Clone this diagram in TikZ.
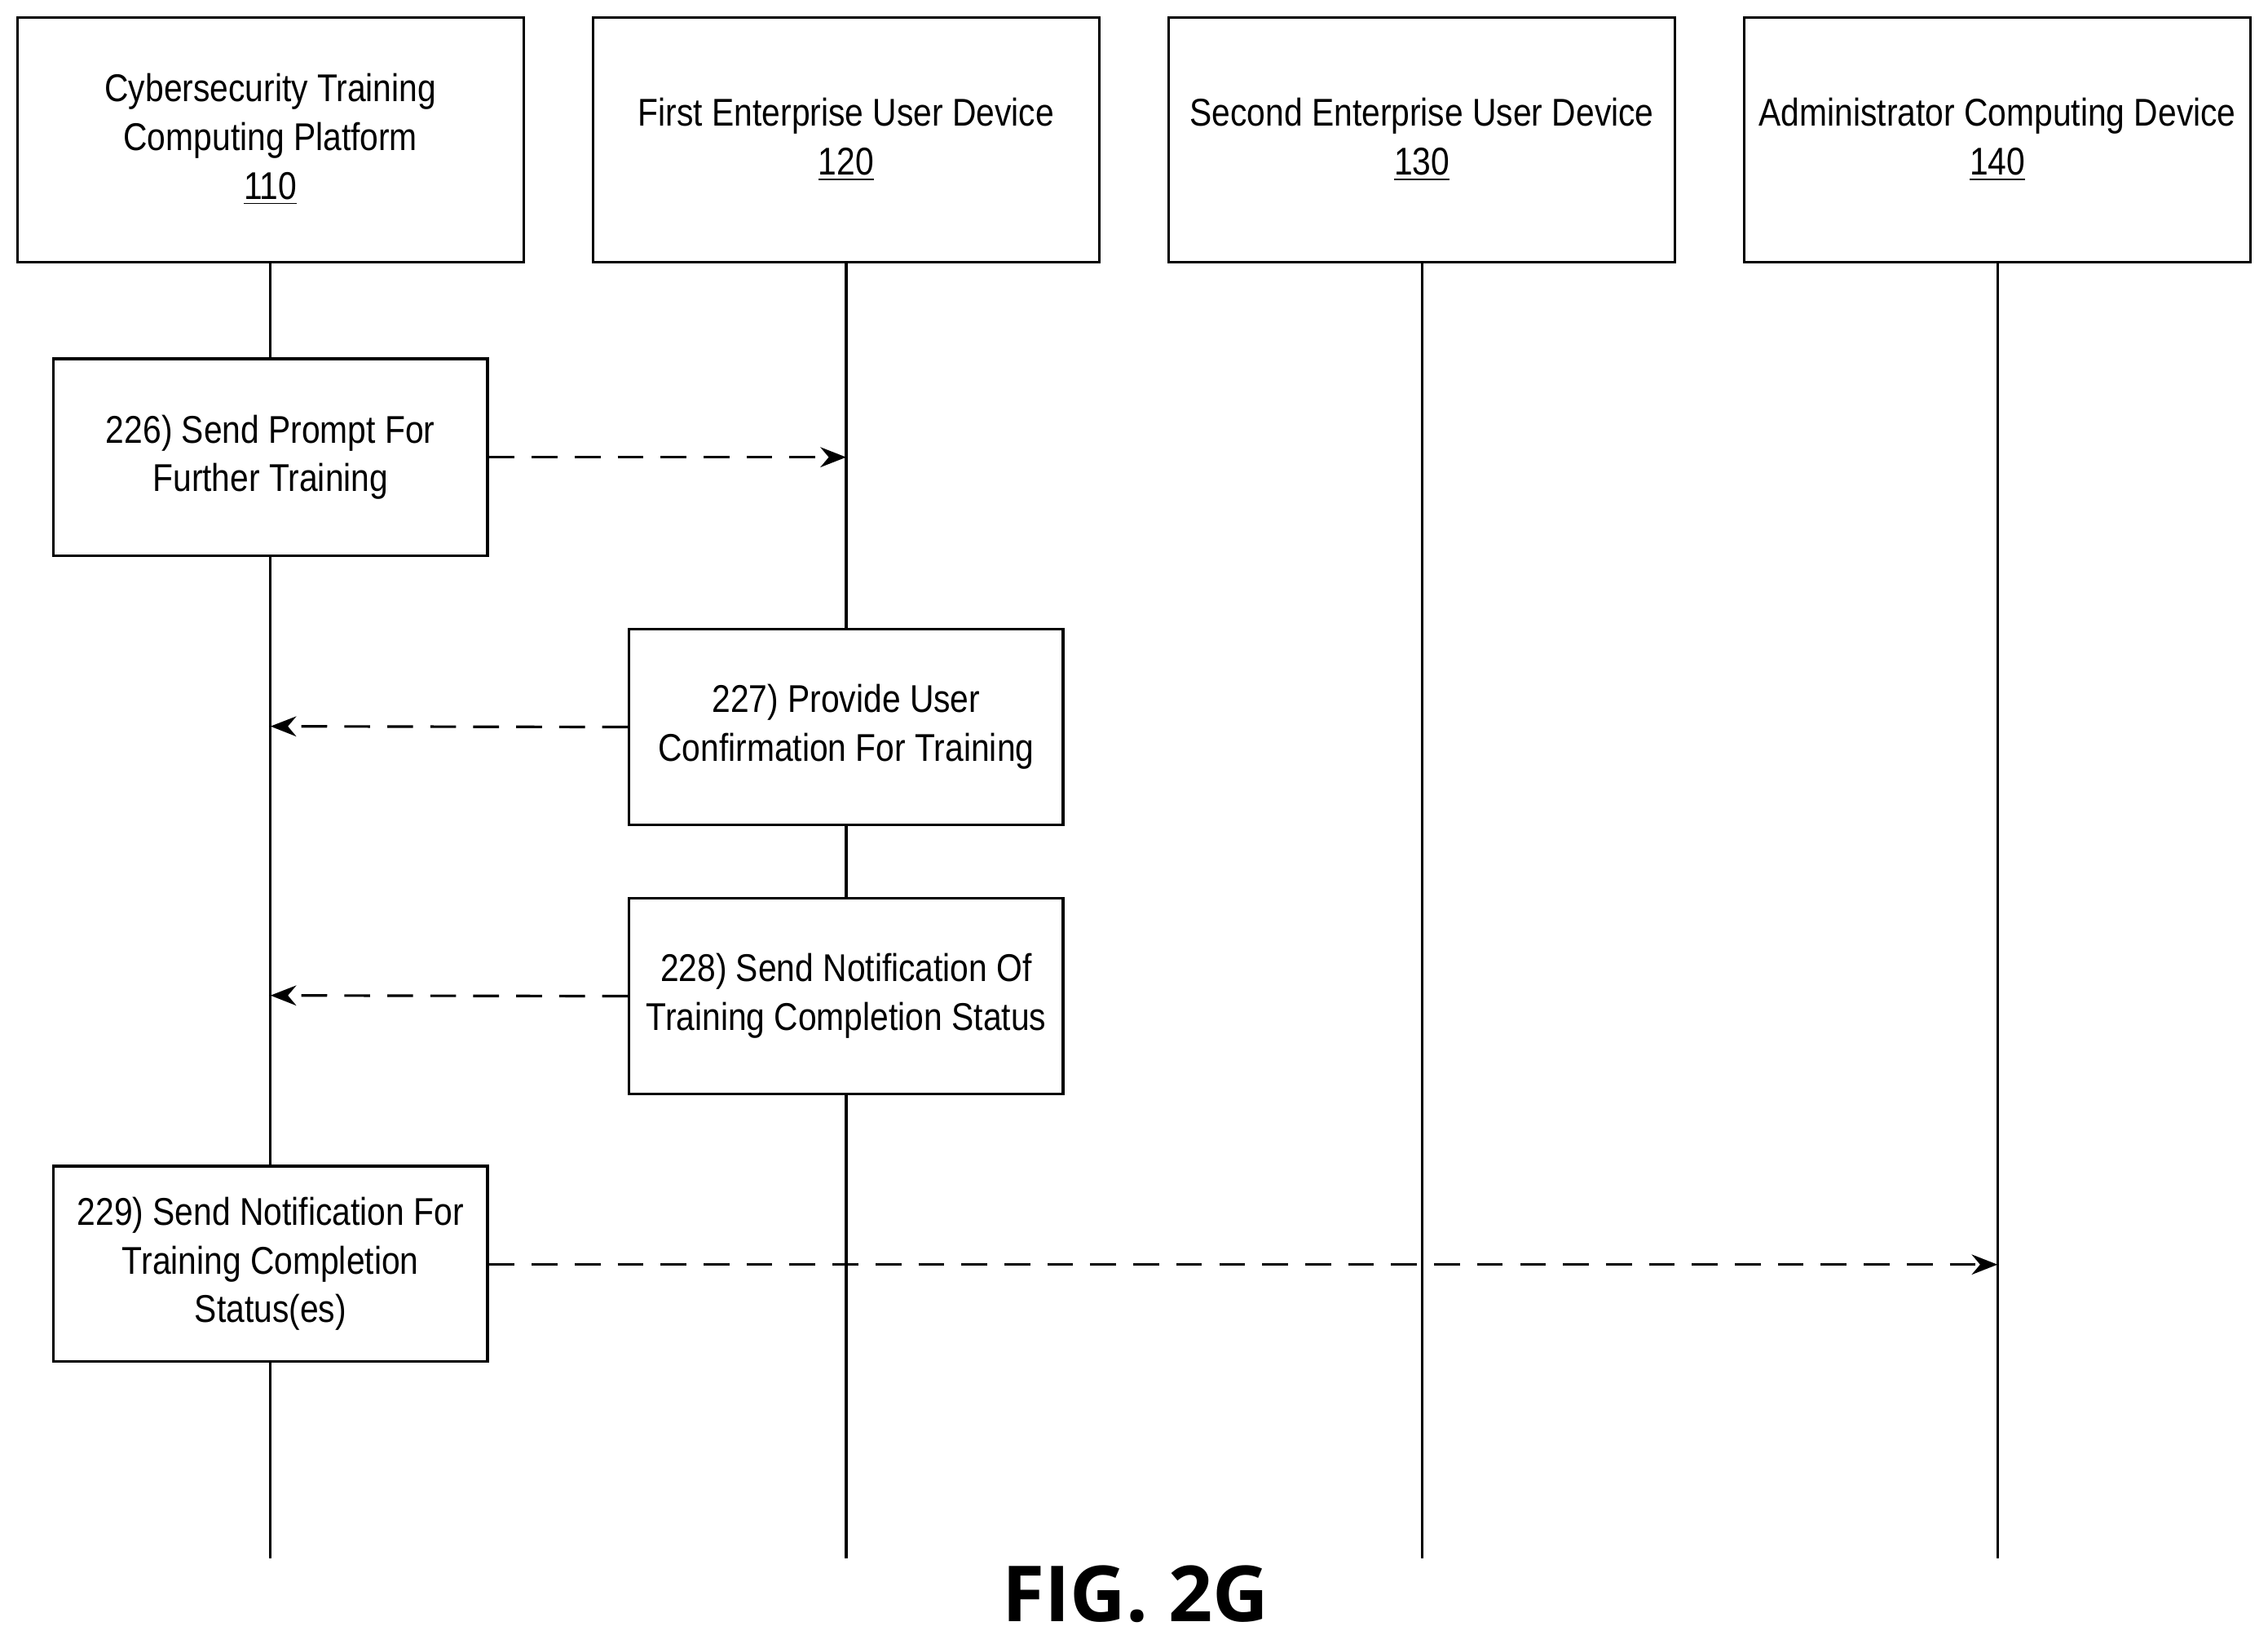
\documentclass[tikz,border=0pt]{standalone}
\usepackage{fontspec}
\setmainfont{Liberation Sans}[FakeStretch=0.86]
\newfontfamily\figfont{Open Sans}
\usetikzlibrary{arrows.meta}
\begin{document}
\begin{tikzpicture}[x=0.01774cm,y=-0.01774cm,
  box/.style={draw,line width=0.9pt,inner sep=0pt,align=center,font=\fontsize{13.5}{17}\selectfont},
  life/.style={line width=0.9pt},
  msg/.style={line width=0.9pt,dash pattern=on 9pt off 6pt,-{Stealth[length=9pt,width=7pt]}}]
\useasboundingbox (0,0) rectangle (1568,1136);
\node[box,minimum width=350*0.01774cm,minimum height=169*0.01774cm] (p) at (187,96.5) {Cybersecurity Training\\Computing Platform\\\underline{110}};
\node[box,minimum width=350*0.01774cm,minimum height=169*0.01774cm] (u1) at (585,96.5) {First Enterprise User Device\\\underline{120}};
\node[box,minimum width=350*0.01774cm,minimum height=169*0.01774cm] (u2) at (983,96.5) {Second Enterprise User Device\\\underline{130}};
\node[box,minimum width=350*0.01774cm,minimum height=169*0.01774cm] (ad) at (1381,96.5) {Administrator Computing Device\\\underline{140}};
\coordinate (pe) at (187,1077); \coordinate (u1e) at (585,1077);
\coordinate (u2e) at (983,1077); \coordinate (ade) at (1381,1077);
\draw[life] (p.south) -- (pe); \draw[life] (u1.south) -- (u1e);
\draw[life] (u2.south) -- (u2e); \draw[life] (ad.south) -- (ade);
\node[box,fill=white,minimum width=300*0.01774cm,minimum height=136*0.01774cm] (b226) at (187,316) {226) Send Prompt For\\Further Training};
\node[box,fill=white,minimum width=300*0.01774cm,minimum height=135*0.01774cm] (b227) at (585,502.5) {227) Provide User\\Confirmation For Training};
\node[box,fill=white,minimum width=300*0.01774cm,minimum height=135*0.01774cm] (b228) at (585,688.5) {228) Send Notification Of\\Training Completion Status};
\node[box,fill=white,minimum width=300*0.01774cm,minimum height=135*0.01774cm] (b229) at (187,873.5) {229) Send Notification For\\Training Completion\\Status(es)};
\coordinate (t226) at (585,316); \coordinate (t227) at (187,502);
\coordinate (t228) at (187,688); \coordinate (t229) at (1381,874);
\draw[msg] (b226.east) -- (t226);
\draw[msg] (b227.west) -- (t227);
\draw[msg] (b228.west) -- (t228);
\draw[msg] (b229.east |- t229) -- (t229);
\node[font=\figfont\bfseries\fontsize{27}{32}\selectfont] (fig) at (785,1102) {FIG. 2G};
\end{tikzpicture}
\end{document}
